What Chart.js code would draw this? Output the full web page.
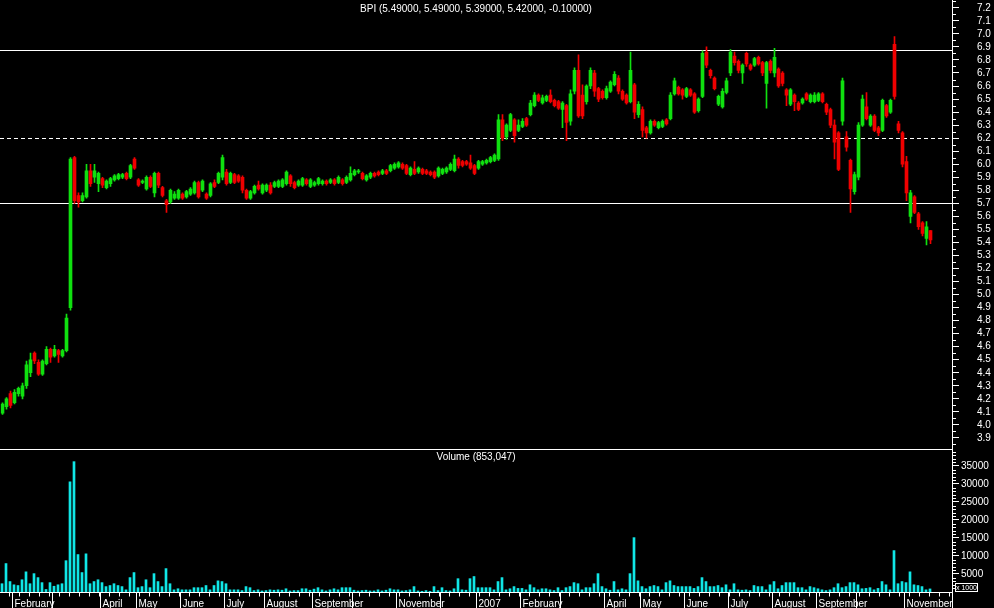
<!DOCTYPE html>
<html>
<head>
<meta charset="utf-8">
<script src="https://cdn.jsdelivr.net/npm/chart.js@4.4.1/dist/chart.umd.min.js"></script>
<style>
  html, body { margin: 0; padding: 0; background: #000; }
  #marco { position: relative; width: 994px; height: 608px; background: #000; overflow: hidden; }
  canvas { position: absolute; left: 0; }
  #precio { top: 0; }
  #volumen { top: 450px; }
</style>
</head>
<body>
<div id="marco">
  <canvas id="precio" width="994" height="450"></canvas>
  <canvas id="volumen" width="994" height="158"></canvas>
</div>
<script>
const TITULO = 'BPI (5.49000, 5.49000, 5.39000, 5.42000, -0.10000)'
const TITULO_VOLUMEN = 'Volume (853,047)'
const VERDE = '#10e010'
const ROJO = '#f00000'
const CIAN = '#10e6e6'
const FUENTE = "'Liberation Sans', Arial, sans-serif"
const SLOTS = 238

// cada vela agrupa dos sesiones
const aperturas = [
  4.09,4.14,4.24,4.17,4.24,4.22,4.30,4.40,4.55,4.48,
  4.39,4.47,4.58,4.53,4.57,4.53,4.57,4.90,6.05,5.76,
  5.72,5.75,5.95,5.90,5.85,5.89,5.82,5.85,5.88,5.89,
  5.90,5.93,5.90,6.04,5.88,5.86,5.81,5.90,5.78,5.93,
  5.82,5.72,5.71,5.74,5.74,5.77,5.75,5.77,5.78,5.86,
  5.80,5.77,5.76,5.86,5.86,5.90,5.94,5.86,5.92,5.91,
  5.90,5.80,5.74,5.78,5.84,5.78,5.80,5.84,5.83,5.83,
  5.83,5.85,5.91,5.86,5.84,5.84,5.88,5.83,5.84,5.85,
  5.85,5.87,5.86,5.88,5.86,5.88,5.86,5.88,5.92,5.94,
  5.93,5.88,5.90,5.93,5.94,5.93,5.95,5.95,5.97,5.98,
  6.00,5.99,5.92,5.96,5.94,5.96,5.95,5.94,5.94,5.91,
  5.93,5.94,5.96,5.95,6.04,6.02,6.02,6.01,5.99,5.97,
  6.00,6.01,6.02,6.03,6.04,6.34,6.21,6.26,6.34,6.26,
  6.29,6.35,6.38,6.45,6.53,6.47,6.49,6.53,6.49,6.48,
  6.42,6.45,6.33,6.56,6.72,6.53,6.48,6.60,6.70,6.58,
  6.56,6.51,6.56,6.61,6.66,6.56,6.53,6.48,6.61,6.38,
  6.42,6.28,6.24,6.33,6.28,6.29,6.34,6.35,6.54,6.59,
  6.57,6.52,6.57,6.54,6.41,6.52,6.86,6.72,6.66,6.46,
  6.44,6.55,6.70,6.83,6.79,6.70,6.85,6.76,6.76,6.82,
  6.78,6.62,6.79,6.70,6.73,6.70,6.57,6.46,6.53,6.47,
  6.47,6.54,6.48,6.48,6.49,6.54,6.46,6.42,6.30,6.24,
  6.33,6.21,6.03,5.79,5.90,6.30,6.44,6.30,6.37,6.28,
  6.26,6.45,6.40,6.92,6.31,6.24,6.02,5.60,5.75,5.62,
  5.55,5.43,5.49
]
const cierres = [
  4.16,4.20,4.15,4.25,4.28,4.30,4.46,4.50,4.49,4.39,
  4.49,4.58,4.52,4.58,4.54,4.57,4.82,6.04,5.72,5.71,
  5.76,5.95,5.85,5.95,5.93,5.84,5.87,5.89,5.91,5.92,
  5.92,5.89,5.99,5.97,5.84,5.87,5.90,5.83,5.93,5.84,
  5.76,5.69,5.80,5.77,5.80,5.74,5.79,5.81,5.86,5.75,
  5.87,5.74,5.85,5.83,5.93,6.05,5.85,5.93,5.86,5.87,
  5.80,5.74,5.79,5.83,5.81,5.84,5.84,5.78,5.86,5.87,
  5.88,5.94,5.85,5.82,5.87,5.89,5.85,5.88,5.86,5.89,
  5.87,5.85,5.88,5.85,5.90,5.85,5.90,5.93,5.95,5.95,
  5.89,5.91,5.93,5.91,5.92,5.95,5.93,5.99,6.00,6.01,
  5.97,5.93,5.97,5.93,5.97,5.93,5.93,5.92,5.90,5.97,
  5.96,5.97,6.00,6.04,5.99,5.99,6.00,5.97,5.93,6.02,
  6.02,6.03,6.05,6.07,6.34,6.20,6.30,6.38,6.22,6.30,
  6.33,6.30,6.47,6.53,6.49,6.51,6.52,6.48,6.45,6.43,
  6.47,6.32,6.54,6.72,6.37,6.37,6.60,6.72,6.56,6.50,
  6.51,6.58,6.63,6.69,6.56,6.50,6.47,6.72,6.40,6.46,
  6.26,6.24,6.33,6.30,6.32,6.33,6.31,6.53,6.64,6.54,
  6.53,6.58,6.53,6.40,6.50,6.85,6.76,6.68,6.58,6.52,
  6.56,6.64,6.86,6.78,6.72,6.76,6.77,6.73,6.81,6.77,
  6.70,6.78,6.72,6.82,6.60,6.62,6.53,6.57,6.48,6.42,
  6.50,6.50,6.53,6.53,6.54,6.48,6.40,6.30,6.17,5.96,
  6.64,6.13,5.81,5.92,6.30,6.50,6.35,6.37,6.26,6.24,
  6.49,6.37,6.49,6.52,6.26,6.00,5.78,5.78,5.63,5.52,
  5.47,5.52,5.42
]
const maximos = [
  4.17,4.21,4.26,4.27,4.29,4.32,4.49,4.55,4.56,4.50,
  4.50,4.60,4.59,4.61,4.58,4.58,4.85,6.05,6.06,5.78,
  5.78,6.00,6.00,6.00,5.94,5.90,5.88,5.90,5.92,5.93,
  5.93,5.94,6.00,6.05,5.89,5.88,5.91,5.91,5.94,5.94,
  5.83,5.73,5.81,5.79,5.81,5.78,5.80,5.82,5.87,5.87,
  5.88,5.78,5.86,5.88,5.94,6.07,5.96,5.94,5.93,5.92,
  5.91,5.81,5.80,5.84,5.87,5.85,5.85,5.86,5.87,5.88,
  5.89,5.95,5.92,5.87,5.88,5.90,5.89,5.89,5.87,5.90,
  5.88,5.88,5.89,5.89,5.91,5.89,5.91,5.98,5.96,5.96,
  5.94,5.92,5.94,5.94,5.95,5.96,5.96,6.00,6.01,6.02,
  6.01,6.00,5.98,6.02,5.98,5.97,5.96,5.95,5.95,5.98,
  5.97,5.98,6.01,6.07,6.05,6.03,6.03,6.07,6.00,6.03,
  6.03,6.04,6.06,6.08,6.38,6.38,6.31,6.39,6.35,6.34,
  6.35,6.36,6.49,6.55,6.54,6.53,6.53,6.57,6.50,6.49,
  6.48,6.46,6.57,6.74,6.84,6.61,6.61,6.74,6.72,6.59,
  6.57,6.60,6.64,6.71,6.68,6.57,6.54,6.86,6.62,6.48,
  6.44,6.29,6.34,6.34,6.33,6.34,6.35,6.55,6.66,6.60,
  6.58,6.59,6.58,6.55,6.51,6.87,6.90,6.73,6.67,6.53,
  6.58,6.66,6.88,6.86,6.80,6.77,6.86,6.77,6.82,6.83,
  6.79,6.79,6.80,6.89,6.74,6.71,6.58,6.58,6.54,6.48,
  6.51,6.55,6.54,6.55,6.55,6.55,6.47,6.43,6.34,6.25,
  6.66,6.25,6.04,5.94,6.32,6.53,6.55,6.38,6.38,6.29,
  6.50,6.46,6.50,6.98,6.33,6.25,6.06,5.80,5.76,5.63,
  5.56,5.56,5.49
]
const minimos = [
  4.08,4.12,4.13,4.16,4.22,4.20,4.28,4.37,4.47,4.38,
  4.38,4.46,4.48,4.52,4.48,4.52,4.56,4.88,5.70,5.67,
  5.71,5.74,5.83,5.86,5.79,5.82,5.81,5.83,5.87,5.88,
  5.89,5.88,5.89,5.96,5.83,5.85,5.80,5.82,5.75,5.82,
  5.75,5.63,5.70,5.73,5.73,5.73,5.74,5.76,5.77,5.74,
  5.79,5.73,5.75,5.82,5.85,5.88,5.84,5.85,5.85,5.86,
  5.78,5.73,5.73,5.77,5.80,5.77,5.79,5.77,5.82,5.82,
  5.82,5.84,5.83,5.81,5.83,5.83,5.84,5.82,5.83,5.84,
  5.84,5.84,5.85,5.84,5.85,5.84,5.85,5.87,5.91,5.93,
  5.88,5.87,5.89,5.90,5.91,5.92,5.92,5.94,5.96,5.97,
  5.96,5.92,5.91,5.92,5.93,5.92,5.92,5.91,5.89,5.90,
  5.92,5.93,5.95,5.94,5.97,5.98,5.99,5.96,5.92,5.96,
  5.99,6.00,6.01,6.02,6.03,6.18,6.19,6.25,6.17,6.25,
  6.28,6.29,6.37,6.44,6.48,6.46,6.48,6.47,6.44,6.42,
  6.28,6.18,6.30,6.54,6.36,6.35,6.46,6.58,6.52,6.48,
  6.50,6.50,6.55,6.60,6.54,6.49,6.46,6.47,6.35,6.36,
  6.21,6.20,6.23,6.29,6.27,6.28,6.30,6.34,6.53,6.53,
  6.50,6.51,6.52,6.39,6.40,6.51,6.74,6.66,6.57,6.45,
  6.43,6.54,6.68,6.76,6.70,6.62,6.75,6.72,6.75,6.76,
  6.68,6.43,6.70,6.67,6.59,6.60,6.45,6.45,6.41,6.41,
  6.46,6.49,6.47,6.47,6.48,6.47,6.38,6.28,6.04,5.95,
  6.30,6.10,5.63,5.77,5.88,6.29,6.34,6.29,6.25,6.22,
  6.25,6.36,6.39,6.50,6.24,5.98,5.72,5.55,5.62,5.50,
  5.45,5.38,5.39
]
// volumen en miles (eje "x 1000")
const volumenes = [
  2300,7900,2900,2000,1800,3400,5600,2300,5100,4000,
  2600,700,2600,1600,2000,2300,8700,30600,36200,10400,
  5400,10600,2300,2900,3400,2600,1500,1800,2300,1800,
  1500,600,4000,5400,1200,1500,3400,1200,5100,2900,
  1500,6500,2300,600,900,600,600,600,1200,1200,
  1200,1800,600,1800,3100,2900,2300,600,600,600,
  400,1500,1200,400,600,300,400,600,500,600,
  500,900,300,400,400,900,900,500,800,1200,
  600,300,600,900,600,1200,1200,1200,500,300,
  400,500,300,300,600,300,500,900,600,600,
  300,400,600,1500,300,200,400,200,1500,400,
  1200,400,300,900,3700,600,500,3700,4300,1200,
  1200,1200,1200,600,2900,4000,600,900,1500,1000,
  1000,600,2000,1200,600,900,900,600,400,1200,
  400,1200,1500,2600,2300,600,1200,1200,2300,5100,
  1500,900,500,2900,600,900,600,5100,15100,3100,
  1500,900,1500,1800,1500,600,2600,3100,1800,1500,
  1500,1500,1500,1000,1500,4000,2900,1500,1500,1800,
  1200,2000,600,2300,600,500,600,400,1800,1500,
  1500,600,2000,2900,900,1800,2600,2600,2600,1200,
  1200,600,1500,1200,900,600,400,600,1200,2300,
  1200,1500,2600,2600,2000,900,1000,1200,600,1000,
  2900,2000,600,11500,2300,2900,2600,5600,2000,1800,
  1500,600,853
]

const ticksPrecio = [3.9,4.0,4.1,4.2,4.3,4.4,4.5,4.6,4.7,4.8,4.9,5.0,5.1,5.2,5.3,5.4,5.5,5.6,5.7,5.8,5.9,6.0,6.1,6.2,6.3,6.4,6.5,6.6,6.7,6.8,6.9,7.0,7.1,7.2]
const ticksVolumen = [5000,10000,15000,20000,25000,30000,35000]
const niveles = [6.875, 6.205, 5.70]
const inicioMes = [3,13,25,34,45,56,66,78,88,99,110,119,130,140,151,160,171,182,193,204,214,226]
const etiquetasMes = ['February','','April','May','June','July','August','September','','November','','2007',
  'February','','April','May','June','July','August','September','','November']

const etiquetas = Array.from({length: SLOTS}, (_, i) => i)
const colores = aperturas.map((a, i) => cierres[i] >= a ? VERDE : ROJO)

function linea(ctx, x1, y1, x2, y2){
  ctx.beginPath()
  ctx.moveTo(x1, y1)
  ctx.lineTo(x2, y2)
  ctx.stroke()
}

function ajustarEje(scale){
  scale.width = 42
  scale.paddingTop = 0
  scale.paddingBottom = 0
}

const medioPixel = {
  id: 'medioPixel',
  beforeDatasetDraw(chart){ chart.ctx.save(); chart.ctx.translate(0.5, 0) },
  afterDatasetDraw(chart){ chart.ctx.restore() }
}

const lineasPrecio = {
  id: 'lineasPrecio',
  beforeDatasetsDraw(chart){
    const {ctx, chartArea, scales: {y}} = chart
    ctx.save()
    ctx.strokeStyle = '#fff'
    ctx.lineWidth = 1
    niveles.forEach((nivel, i) => {
      const py = Math.round(y.getPixelForValue(nivel)) + 0.5
      ctx.setLineDash(i === 1 ? [4, 3] : [])
      linea(ctx, chartArea.left, py, chartArea.right, py)
    })
    ctx.restore()
  },
  afterDraw(chart){
    const {ctx, chartArea, scales: {y}} = chart
    ctx.save()
    ctx.strokeStyle = '#fff'
    ctx.lineWidth = 1
    ticksPrecio.concat([7.3]).forEach(v => {
      const py = Math.round(y.getPixelForValue(v - 0.05)) + 0.5
      linea(ctx, chartArea.right, py, chartArea.right + 4, py)
    })
    // separador entre paneles
    const sy = Math.round(chartArea.bottom) + 0.5
    linea(ctx, 0, sy, chartArea.right, sy)
    linea(ctx, chartArea.right + 0.5, 0, chartArea.right + 0.5, chart.height)
    ctx.fillStyle = '#fff'
    ctx.font = '10px ' + FUENTE
    ctx.textAlign = 'center'
    ctx.textBaseline = 'middle'
    ctx.fillText(TITULO, (chartArea.left + chartArea.right) / 2, 9)
    ctx.restore()
  }
}

const ejeTiempo = {
  id: 'ejeTiempo',
  afterDraw(chart){
    const {ctx, chartArea, scales: {x, y}} = chart
    const ancho = x.getPixelForValue(1) - x.getPixelForValue(0)
    const borde = idx => x.getPixelForValue(0) + (idx - 0.5) * ancho
    const base = Math.round(chartArea.bottom) + 0.5
    ctx.save()
    ctx.strokeStyle = '#fff'
    ctx.fillStyle = '#fff'
    ctx.lineWidth = 1
    linea(ctx, 0, base, chartArea.right, base)
    for(let s = 2.3; s < SLOTS; s += 2.5){
      const px = Math.round(borde(s)) + 0.5
      linea(ctx, px, base, px, base + 4)
    }
    ctx.font = '10px ' + FUENTE
    ctx.textAlign = 'left'
    ctx.textBaseline = 'alphabetic'
    inicioMes.forEach((idx, k) => {
      const px = Math.round(borde(idx)) + 0.5
      linea(ctx, px, base, px, chart.height)
      if(etiquetasMes[k]) ctx.fillText(etiquetasMes[k], px + 2, chart.height - 1)
    })
    const ex = chartArea.right + 0.5
    linea(ctx, ex, 0, ex, chart.height)
    for(let v = 1000; v < y.max; v += 1000){
      if(v % 5000 === 0) continue
      const py = Math.round(y.getPixelForValue(v)) + 0.5
      linea(ctx, chartArea.right, py, chartArea.right + 4, py)
    }
    ctx.strokeRect(955.5, 133.5, 22, 8)
    ctx.font = '7px ' + FUENTE
    ctx.textAlign = 'center'
    ctx.textBaseline = 'middle'
    ctx.fillText('x 1000', 966.5, 138)
    ctx.font = '10px ' + FUENTE
    ctx.fillText(TITULO_VOLUMEN, (chartArea.left + chartArea.right) / 2, 7.5)
    ctx.restore()
  }
}

const ejeY = (ticks, padding, formato) => ({
  position: 'right',
  afterFit: ajustarEje,
  afterBuildTicks(scale){ scale.ticks = ticks.map(v => ({value: v})) },
  grid: { drawOnChartArea: false, color: '#fff', tickLength: 7 },
  border: { display: true, color: '#fff' },
  ticks: { color: '#fff', autoSkip: false, padding: padding, font: { family: FUENTE, size: 10 }, callback: formato }
})

new Chart(document.getElementById('precio'), {
  type: 'bar',
  data: {
    labels: etiquetas,
    datasets: [{
      data: minimos.map((l, i) => [l, maximos[i]]),
      backgroundColor: colores,
      barThickness: 1,
      grouped: false
    }, {
      data: aperturas.map((a, i) => [a, cierres[i]]),
      backgroundColor: colores,
      barThickness: 3,
      minBarLength: 1,
      grouped: false
    }]
  },
  options: {
    responsive: false,
    animation: false,
    devicePixelRatio: 1,
    layout: { padding: { top: 0, bottom: 1, left: 0, right: 0 } },
    plugins: { legend: { display: false }, tooltip: { enabled: false } },
    scales: {
      x: { display: false, offset: true },
      y: Object.assign(ejeY(ticksPrecio, 18, v => Number(v).toFixed(1)), { min: 3.815, max: 7.26 })
    }
  },
  plugins: [medioPixel, lineasPrecio]
})

new Chart(document.getElementById('volumen'), {
  type: 'bar',
  data: {
    labels: etiquetas,
    datasets: [{
      data: volumenes,
      backgroundColor: CIAN,
      barThickness: 2
    }]
  },
  options: {
    responsive: false,
    animation: false,
    devicePixelRatio: 1,
    layout: { padding: { top: 0, bottom: 16, left: 0, right: 0 } },
    plugins: { legend: { display: false }, tooltip: { enabled: false } },
    scales: {
      x: { display: false, offset: true },
      y: Object.assign(ejeY(ticksVolumen, 2, v => String(v)), { min: 0, max: 39440 })
    }
  },
  plugins: [ejeTiempo]
})
</script>
</body>
</html>
